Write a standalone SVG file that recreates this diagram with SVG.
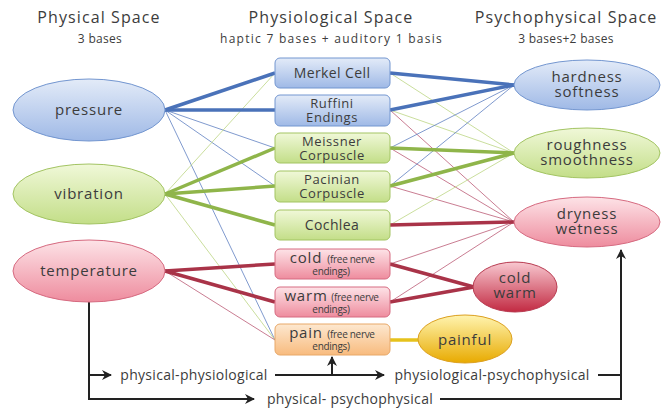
<svg xmlns="http://www.w3.org/2000/svg" width="668" height="411" viewBox="0 0 668 411">
<defs>
<linearGradient id="gBlue" x1="0" y1="0" x2="0" y2="1"><stop offset="0" stop-color="#e3ebf8"/><stop offset="1" stop-color="#9fb9e6"/></linearGradient>
<linearGradient id="gGreen" x1="0" y1="0" x2="0" y2="1"><stop offset="0" stop-color="#f0f8d8"/><stop offset="1" stop-color="#c3de88"/></linearGradient>
<linearGradient id="gPink" x1="0" y1="0" x2="0" y2="1"><stop offset="0" stop-color="#fde3e7"/><stop offset="1" stop-color="#ee8c9e"/></linearGradient>
<linearGradient id="gOrange" x1="0" y1="0" x2="0" y2="1"><stop offset="0" stop-color="#fde8d0"/><stop offset="1" stop-color="#f8bb7e"/></linearGradient>
<linearGradient id="gRed" x1="0" y1="0" x2="0" y2="1"><stop offset="0" stop-color="#f8c8d0"/><stop offset="1" stop-color="#c22a42"/></linearGradient>
<linearGradient id="gYellow" x1="0" y1="0" x2="0" y2="1"><stop offset="0" stop-color="#fff4b0"/><stop offset="1" stop-color="#e8aa00"/></linearGradient>
<marker id="arr" viewBox="0 0 10 10" refX="9" refY="5" markerWidth="5" markerHeight="5" orient="auto" markerUnits="strokeWidth">
<path d="M0,0 L10,5 L0,10 L3,5 Z" fill="#222"/>
</marker>
</defs>
<style>
text{font-family:"Open Sans","Noto Sans","Liberation Sans",sans-serif;fill:#3c3c3c;text-anchor:middle}
.h{font-size:16px;letter-spacing:1.1px}
.s{font-size:12px;letter-spacing:0.3px}
.n{font-size:15px;letter-spacing:0.8px}
.b{font-size:14px;letter-spacing:0.4px}
.b2{font-size:13px;letter-spacing:0.6px}
.t{font-size:10px;letter-spacing:-0.3px}
.f{font-size:14px;letter-spacing:0.3px}
.blue{fill:url(#gBlue);stroke:#7396d0;stroke-width:1}
.green{fill:url(#gGreen);stroke:#a3c463;stroke-width:1}
.pink{fill:url(#gPink);stroke:#d66a80;stroke-width:1}
.orange{fill:url(#gOrange);stroke:#e8a868;stroke-width:1}
.red{fill:url(#gRed);stroke:#b83a50;stroke-width:1}
.yellow{fill:url(#gYellow);stroke:#dca020;stroke-width:1}
.TB{stroke:#4a72b9;stroke-width:3.5}
.TG{stroke:#8fb54a;stroke-width:3.5}
.TR{stroke:#a93348;stroke-width:3.5}
.TY{stroke:#e6c21c;stroke-width:3.5}
.LB{stroke:#5f80c2;stroke-width:0.8}
.LG{stroke:#bcd584;stroke-width:0.8}
.LR{stroke:#bb5c76;stroke-width:0.8}
.k{stroke:#222;stroke-width:2;fill:none}
</style>

<g id="headers">
<text class="h" x="99" y="23">Physical Space</text>
<text class="s" x="100" y="43">3 bases</text>
<text class="h" x="331" y="23">Physiological Space</text>
<text class="s" x="331" y="43" textLength="222" lengthAdjust="spacing">haptic 7 bases + auditory 1 basis</text>
<text class="h" x="566" y="23">Psychophysical Space</text>
<text class="s" x="566" y="43">3 bases+2 bases</text>
</g>

<g id="connectors">
<line class="LB" x1="165" y1="110" x2="275" y2="148"/>
<line class="LB" x1="165" y1="110" x2="275" y2="186"/>
<line class="LB" x1="165" y1="110" x2="275" y2="340"/>
<line class="LG" x1="165" y1="194" x2="275" y2="73"/>
<line class="LG" x1="165" y1="194" x2="275" y2="340"/>
<line class="LR" x1="165" y1="271" x2="275" y2="340"/>
<line class="LG" x1="390" y1="73" x2="514" y2="153"/>
<line class="LG" x1="390" y1="110" x2="514" y2="153"/>
<line class="LR" x1="390" y1="110" x2="514" y2="222"/>
<line class="LB" x1="390" y1="148" x2="514" y2="85"/>
<line class="LR" x1="390" y1="148" x2="514" y2="222"/>
<line class="LB" x1="390" y1="186" x2="514" y2="85"/>
<line class="LR" x1="390" y1="186" x2="514" y2="222"/>
<line class="LG" x1="390" y1="225" x2="514" y2="153"/>
<line class="LR" x1="390" y1="264" x2="514" y2="222"/>
<line class="LR" x1="390" y1="302" x2="514" y2="222"/>
<line class="TB" x1="165" y1="110" x2="275" y2="73"/>
<line class="TB" x1="165" y1="110" x2="275" y2="110"/>
<line class="TG" x1="165" y1="194" x2="275" y2="148"/>
<line class="TG" x1="165" y1="194" x2="275" y2="186"/>
<line class="TG" x1="165" y1="194" x2="275" y2="225"/>
<line class="TR" x1="165" y1="271" x2="275" y2="264"/>
<line class="TR" x1="165" y1="271" x2="275" y2="302"/>
<line class="TB" x1="390" y1="73" x2="514" y2="85"/>
<line class="TB" x1="390" y1="110" x2="514" y2="85"/>
<line class="TG" x1="390" y1="148" x2="514" y2="153"/>
<line class="TG" x1="390" y1="186" x2="514" y2="153"/>
<line class="TR" x1="390" y1="225" x2="514" y2="222"/>
<line class="TR" x1="390" y1="264" x2="474" y2="287"/>
<line class="TR" x1="390" y1="302" x2="474" y2="287"/>
<line class="TY" x1="390" y1="340" x2="418" y2="340"/>
<path class="k" d="M89,302 V399 H254" marker-end="url(#arr)"/>
<path class="k" d="M89,375 H111" marker-end="url(#arr)"/>
<path class="k" d="M275,375 H384" marker-end="url(#arr)"/>
<path class="k" d="M332,375 V357" marker-end="url(#arr)"/>
<path class="k" d="M598,375 H621"/>
<path class="k" d="M440,399 H621 V250" marker-end="url(#arr)"/>
<text class="f" x="194" y="380">physical-physiological</text>
<text class="f" x="492" y="380">physiological-psychophysical</text>
<text class="f" x="350" y="404">physical- psychophysical</text>
</g>

<g id="pressure"><ellipse class="blue" cx="89" cy="110" rx="76" ry="31"/><text class="n" x="89" y="115">pressure</text></g>
<g id="vibration"><ellipse class="green" cx="89" cy="194" rx="76" ry="30"/><text class="n" x="89" y="199">vibration</text></g>
<g id="temperature"><ellipse class="pink" cx="89" cy="271" rx="76" ry="31"/><text class="n" x="89" y="276">temperature</text></g>

<g id="merkel"><rect class="blue" x="275" y="58" width="115" height="30" rx="5"/><text class="b" x="332" y="78">Merkel Cell</text></g>
<g id="ruffini"><rect class="blue" x="275" y="95" width="115" height="31" rx="5"/><text class="b2" x="332" y="108">Ruffini<tspan x="332" dy="14">Endings</tspan></text></g>
<g id="meissner"><rect class="green" x="275" y="133" width="115" height="30" rx="5"/><text class="b2" x="332" y="146">Meissner<tspan x="332" dy="14">Corpuscle</tspan></text></g>
<g id="pacinian"><rect class="green" x="275" y="171" width="115" height="31" rx="5"/><text class="b2" x="332" y="184">Pacinian<tspan x="332" dy="14">Corpuscle</tspan></text></g>
<g id="cochlea"><rect class="green" x="275" y="210" width="115" height="30" rx="5"/><text class="b" x="332" y="230">Cochlea</text></g>
<g id="cold"><rect class="pink" x="275" y="249" width="115" height="30" rx="5"/><text class="n" x="306" y="263">cold<tspan class="t" x="351" y="263">(free nerve</tspan><tspan class="t" x="331" y="275">endings)</tspan></text></g>
<g id="warm"><rect class="pink" x="275" y="287" width="115" height="30" rx="5"/><text class="n" x="306" y="301">warm<tspan class="t" x="355" y="301">(free nerve</tspan><tspan class="t" x="331" y="313">endings)</tspan></text></g>
<g id="pain"><rect class="orange" x="275" y="324" width="115" height="31" rx="5"/><text class="n" x="306" y="338">pain<tspan class="t" x="351" y="338">(free nerve</tspan><tspan class="t" x="331" y="350">endings)</tspan></text></g>

<g id="hardness"><ellipse class="blue" cx="587" cy="85" rx="73" ry="25"/><text class="n" x="587" y="82">hardness<tspan x="587" dy="15">softness</tspan></text></g>
<g id="roughness"><ellipse class="green" cx="587" cy="153" rx="73" ry="25"/><text class="n" x="587" y="150">roughness<tspan x="587" dy="15">smoothness</tspan></text></g>
<g id="dryness"><ellipse class="pink" cx="587" cy="222" rx="73" ry="25"/><text class="n" x="587" y="219">dryness<tspan x="587" dy="15">wetness</tspan></text></g>
<g id="coldwarm"><ellipse class="red" cx="515" cy="287" rx="42" ry="25"/><text class="n" x="515" y="283">cold<tspan x="515" dy="15">warm</tspan></text></g>
<g id="painful"><ellipse class="yellow" cx="465" cy="339" rx="47" ry="24"/><text class="n" x="465" y="345">painful</text></g>
</svg>
